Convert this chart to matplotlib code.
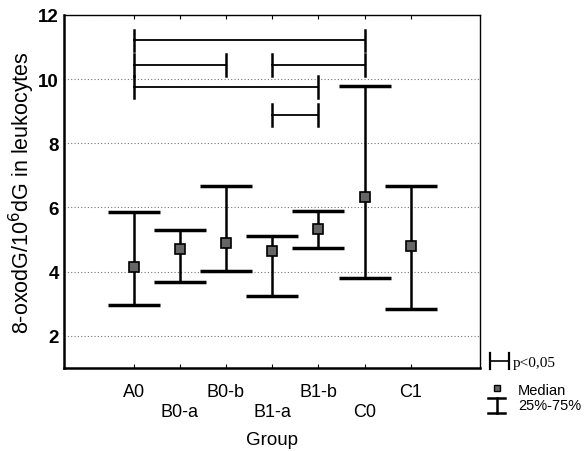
import matplotlib
matplotlib.use("Agg")
import matplotlib.pyplot as plt
from matplotlib.lines import Line2D

plt.rcParams["font.family"] = ["Liberation Sans", "DejaVu Sans"]

# Data
groups = ["A0", "B0-a", "B0-b", "B1-a", "B1-b", "C0", "C1"]
medians = [4.13, 4.70, 4.89, 4.64, 5.32, 6.31, 4.79]
q25 = [2.97, 3.68, 4.01, 3.23, 4.72, 3.79, 2.83]
q75 = [5.86, 5.30, 6.67, 5.10, 5.88, 9.77, 6.67]

# significance brackets: (from group, to group, level)
brackets = [("A0", "C0", 11.2), ("A0", "B0-b", 10.43), ("B1-a", "C0", 10.43),
            ("A0", "B1-b", 9.74), ("B1-a", "B1-b", 8.88)]

fig = plt.figure(figsize=(5.84, 4.52), dpi=100)
ax = fig.add_axes([0.110, 0.184, 0.712, 0.781])

x = list(range(len(groups)))
lower = [m - lo for m, lo in zip(medians, q25)]
upper = [hi - m for m, hi in zip(medians, q75)]
ax.errorbar(x, medians, yerr=[lower, upper], fmt="none", ecolor="black",
            elinewidth=1.8, capsize=19, capthick=2.5, zorder=3)
ax.plot(x, medians, "s", ms=6.5, mfc="#666666", mec="black", mew=1.2, zorder=4)

cap = 0.34
for g1, g2, lvl in brackets:
    i1, i2 = groups.index(g1), groups.index(g2)
    ax.plot([i1, i2], [lvl, lvl], color="black", lw=1.3, zorder=3)
    for i in (i1, i2):
        ax.plot([i, i], [lvl - cap, lvl + cap], color="black", lw=1.8, zorder=3)

ax.set_xlim(-1.5, 7.5)
ax.set_ylim(1, 12)
ax.set_yticks([2, 4, 6, 8, 10, 12])
ax.yaxis.grid(True, linestyle=(0, (1, 2)), color="#777777", lw=0.8)
ax.set_axisbelow(True)
ax.set_xticks(x)
ax.set_xticklabels([g if i % 2 == 0 else "\n" + g for i, g in enumerate(groups)])
ax.tick_params(axis="x", direction="in", length=3, labelsize=13, pad=11,
               top=True)
ax.tick_params(axis="y", direction="out", length=0, labelsize=13.5, pad=4)
for lab in ax.get_yticklabels():
    lab.set_fontweight("bold")
for sp in ax.spines.values():
    sp.set_linewidth(1.0)
ax.spines["left"].set_linewidth(1.8)
ax.spines["bottom"].set_linewidth(1.8)

ax.set_xlabel("Group", fontsize=13.5, labelpad=8)
ax.set_ylabel("8-oxodG/10$^6$dG in leukocytes", fontsize=15.5, labelpad=1)

# legend drawn by hand outside the axes
tf = fig.transFigure
def fx(px):
    return px / 584
def fy(py):
    return 1 - py / 452

fig.add_artist(Line2D([fx(490), fx(509)], [fy(362), fy(362)], color="black", lw=1.2, transform=tf))
for px in (490, 509):
    fig.add_artist(Line2D([fx(px), fx(px)], [fy(354), fy(370)], color="black", lw=1.6, transform=tf))
fig.text(fx(513), fy(364), "p<0,05", fontsize=11, va="center", ha="left",
         family=["Liberation Serif", "DejaVu Serif"])
fig.add_artist(Line2D([fx(497)], [fy(389)], marker="s", ms=5, mfc="#666666", mec="black", transform=tf))
fig.text(fx(518), fy(391), "Median", fontsize=10.5, va="center", ha="left")
fig.add_artist(Line2D([fx(488), fx(505)], [fy(399), fy(399)], color="black", lw=1.8, transform=tf))
fig.add_artist(Line2D([fx(488), fx(505)], [fy(414), fy(414)], color="black", lw=1.8, transform=tf))
fig.add_artist(Line2D([fx(497), fx(497)], [fy(399), fy(414)], color="black", lw=1.8, transform=tf))
fig.text(fx(518), fy(406), "25%-75%", fontsize=10.5, va="center", ha="left")

fig.savefig("out.png", dpi=100)
